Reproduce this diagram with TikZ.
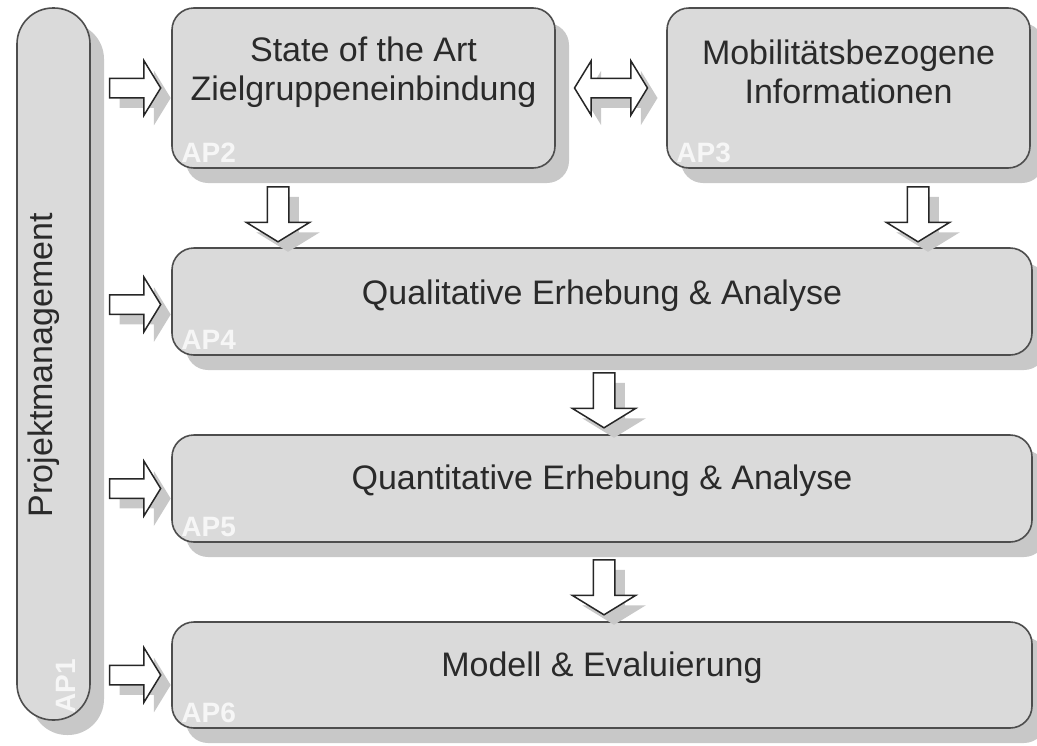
\documentclass[tikz,border=0pt]{standalone}
\usepackage{fontspec}
\setmainfont{Liberation Sans}
\usetikzlibrary{shapes,arrows}
\usetikzlibrary{shadows}
\usetikzlibrary{positioning}
\usetikzlibrary{calc}

\definecolor{boxfill}{HTML}{DADADA}
\definecolor{boxline}{HTML}{4D4D4D}
\definecolor{shade}{HTML}{C8C8C8}
\definecolor{txt}{HTML}{2A2A2A}
\definecolor{aptxt}{HTML}{F6F6F6}

\begin{document}
\begin{tikzpicture}[x=1pt, y=-1pt,
    apbox/.style={draw=boxline, line width=1.6pt, fill=boxfill, rounded corners=22pt,
        inner sep=0pt, drop shadow={shadow xshift=14pt, shadow yshift=-15pt, fill=shade, opacity=1}},
    boxtext/.style={text=txt, font=\fontsize{34}{39}\selectfont, align=center},
    aplabel/.style={text=aptxt, font=\fontsize{28}{30}\selectfont\bfseries, inner sep=0pt},
    blk/.style={draw=black!85, line width=1.5pt, fill=white, inner sep=0pt,
        drop shadow={shadow xshift=10pt, shadow yshift=-10pt, fill=shade, opacity=1}},
    rarrow/.style={blk, single arrow, text height=9pt, text depth=9pt, minimum height=51pt,
        single arrow head extend=17.5pt, single arrow tip angle=117},
    darrow/.style={blk, single arrow, shape border rotate=270, text width=20pt, text height=0pt,
        text depth=0pt, minimum height=55pt, single arrow head extend=21pt, single arrow tip angle=117},
    lrarrow/.style={blk, double arrow, text height=9pt, text depth=9pt, minimum height=73pt,
        double arrow head extend=17.5pt, double arrow tip angle=117}]

    \useasboundingbox (0,0) rectangle (1037,745);

    % Projektmanagement bar
    \node[apbox, rounded corners=36pt, minimum width=73pt, minimum height=712pt] (ap1) at (53.5,364) {};
    \node[boxtext, rotate=90] (pm) at (44,365) {Projektmanagement};
    \node[aplabel, rotate=90] (l1) at (66,686) {AP1};

    % work packages
    \node[apbox, minimum width=383pt, minimum height=160pt] (ap2) at (363.5,88) {};
    \node[apbox, minimum width=363pt, minimum height=160pt] (ap3) at (848.5,88) {};
    \node[apbox, minimum width=860pt, minimum height=107pt] (ap4) at (602,301.5) {};
    \node[apbox, minimum width=860pt, minimum height=107pt] (ap5) at (602,488.5) {};
    \node[apbox, minimum width=860pt, minimum height=106pt] (ap6) at (602,675) {};

    \node[boxtext] (t2) at ([yshift=16pt]ap2.center) {State of the Art\\Zielgruppeneinbindung};
    \node[boxtext] (t3) at ([yshift=16pt]ap3.center) {Mobilitätsbezogene\\Informationen};
    \node[boxtext] (t4) at ([yshift=6pt]ap4.center) {Qualitative Erhebung \& Analyse};
    \node[boxtext] (t5) at ([yshift=8pt]ap5.center) {Quantitative Erhebung \& Analyse};
    \node[boxtext] (t6) at ([yshift=7pt]ap6.center) {Modell \& Evaluierung};

    \foreach \n in {2,...,6}
        \node[aplabel, anchor=south west] (l\n) at ([xshift=10pt, yshift=6pt]ap\n.south west) {AP\n};

    % block arrows
    \node[rarrow] (r2) at ([xshift=-39pt]ap2.west) {};
    \node[rarrow] (r4) at ([xshift=-39pt, yshift=-3pt]ap4.west) {};
    \node[rarrow] (r5) at ([xshift=-39pt]ap5.west) {};
    \node[rarrow] (r6) at ([xshift=-39pt]ap6.west) {};
    \node[lrarrow] (r23) at ($(ap2.east)!0.5!(ap3.west)$) {};
    \node[darrow] (d24) at (278,211) {};
    \node[darrow] (d34) at (918,211) {};
    \node[darrow] (d45) at ([xshift=2pt, yshift=-2pt]$(ap4.south)!0.5!(ap5.north)$) {};
    \node[darrow] (d56) at ([xshift=2pt, yshift=-2pt]$(ap5.south)!0.5!(ap6.north)$) {};
\end{tikzpicture}
\end{document}
